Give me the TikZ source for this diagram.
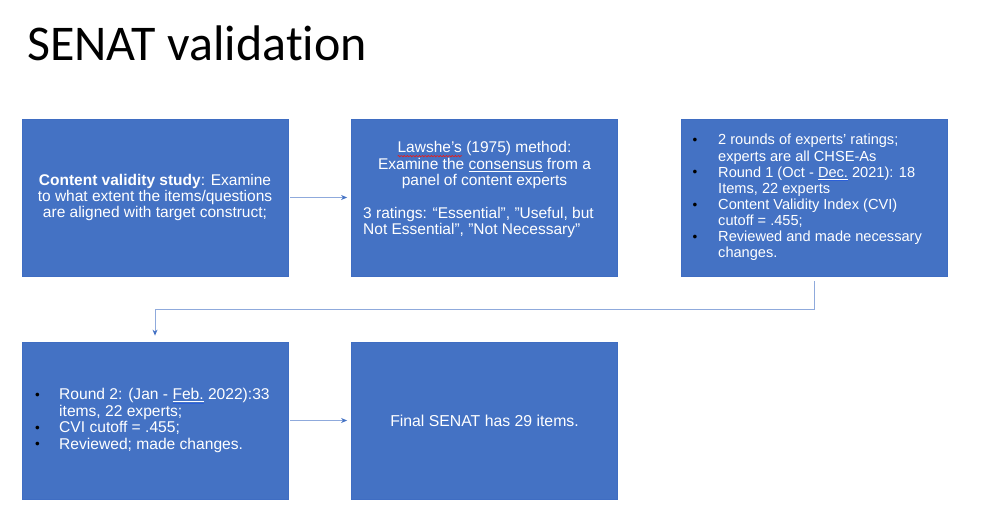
\documentclass[tikz,border=0pt]{standalone}
\usepackage{fontspec}
\setmainfont{Liberation Sans}
\newfontfamily\titlefont[Ligatures=NoCommon]{Carlito}
\usetikzlibrary{arrows.meta}
\definecolor{boxblue}{HTML}{4472C4}
\definecolor{boxedge}{HTML}{3F6DC2}
\definecolor{linkblue}{HTML}{8FAADC}
\definecolor{tipblue}{HTML}{4472C4}
\definecolor{gramblue}{HTML}{2B5FD9}
\definecolor{wavered}{HTML}{E02020}
\newsavebox\ulbox
\newcommand\redwave[1]{\sbox\ulbox{#1}\pgfmathsetmacro\wavew{\wd\ulbox}\rlap{\tikz[baseline=0pt,x=1pt,y=1pt]{\useasboundingbox (0,0); \draw[wavered,line width=0.7pt] plot[domain=0:\wavew,samples=60] (\x,{-3.9+0.8*sin(\x*180/1.5)});}}\usebox\ulbox}
\newcommand\gramline[1]{\sbox\ulbox{#1}\rlap{\textcolor{white}{\rule[-2.2pt]{\wd\ulbox}{0.6pt}}}\rlap{\textcolor{gramblue}{\rule[-3.8pt]{\wd\ulbox}{0.7pt}}}\usebox\ulbox}
\newcommand\whiteline[1]{\sbox\ulbox{#1}\rlap{\textcolor{white}{\rule[-2.4pt]{\wd\ulbox}{0.7pt}}}\usebox\ulbox}
\newcommand\blt[1]{\makebox[#1][l]{\hspace{0.5pt}\textcolor{black}{\fontsize{13.5}{13.5}\selectfont\raisebox{0.3pt}{\textbullet}}}}
\tikzset{
  box/.style={draw=boxedge, line width=0.8pt, fill=boxblue, minimum width=266pt, minimum height=157pt, inner sep=0pt},
  txt/.style={text=white, inner sep=0pt, font=\fontsize{15.5}{16.3}\selectfont},
  link/.style={draw=linkblue, line width=0.9pt, -{Stealth[length=6pt,width=5pt,color=tipblue]}},
}
\begin{document}
\begin{tikzpicture}[x=1pt, y=-1pt]
\useasboundingbox (0,0) rectangle (1000,517);
\fill[white] (0,0) rectangle (1000,517);
% title
\node[anchor=base west, inner sep=0pt, font=\titlefont\fontsize{50}{55}\selectfont] (title) at (27,60) {SENAT validation};
% boxes
\node[box] (b1) at (155,197.5) {};
\node[box] (b2) at (484.5,197.5) {};
\node[box] (b3) at (814.5,197.5) {};
\node[box] (b4) at (155,420.5) {};
\node[box] (b5) at (484.5,420.5) {};
% texts
\node[txt, align=center] (t1) at (b1.center) {\textbf{Content validity study}: Examine\\to what extent the items/questions\\are aligned with target construct;};
\node[txt, align=center, font=\fontsize{15.5}{16.8}\selectfont] (t2a) at (484.5,165) {\redwave{Lawshe's} (1975) method:\\Examine the \whiteline{consensus} from a\\panel of content experts};
\node[txt, align=left, anchor=west, font=\fontsize{15.5}{16}\selectfont] (t2b) at (363,222.5) {3 ratings: “Essential\symbol{34}, \symbol{34}Useful, but\\Not Essential\symbol{34}, \symbol{34}Not Necessary\symbol{34}};
\node[txt, align=left, anchor=west, font=\fontsize{14.6}{16.1}\selectfont] (t3) at (692,197.5) {\blt{26pt}2 rounds of experts’ ratings;\\\hspace*{26pt}experts are all CHSE-As\\\blt{26pt}Round 1 (Oct - \gramline{Dec.} 2021): 18\\\hspace*{26pt}Items, 22 experts\\\blt{26pt}Content Validity Index (CVI)\\\hspace*{26pt}cutoff = .455;\\\blt{26pt}Reviewed and made necessary\\\hspace*{26pt}changes.};
\node[txt, align=left, anchor=west, font=\fontsize{15.6}{16.5}\selectfont] (t4) at (34.5,420.5) {\blt{24.5pt}Round 2: (Jan - \gramline{Feb.} 2022):33\\\hspace*{24.5pt}items, 22 experts;\\\blt{24.5pt}CVI cutoff = .455;\\\blt{24.5pt}Reviewed; made changes.};
\node[txt, font=\fontsize{15.8}{17}\selectfont] (t5) at (b5.center) {Final SENAT has 29 items.};
% connectors
\coordinate (e1) at (814.5,309);
\coordinate (e2) at (155,309);
\draw[link, shorten <=2pt, shorten >=4pt] (b1.east) -- (b2.west);
\draw[link, shorten <=2pt, shorten >=4pt] (b4.east) -- (b5.west);
\draw[link, shorten <=5pt, shorten >=6pt] (b3.south) -- (e1) -- (e2) -- (b4.north);
\end{tikzpicture}
\end{document}
